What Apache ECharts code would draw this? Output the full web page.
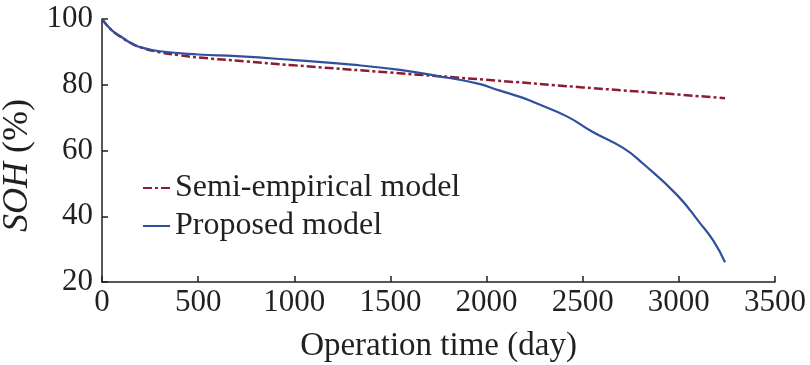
<!DOCTYPE html>
<html><head><meta charset="utf-8">
<script src="https://cdn.jsdelivr.net/npm/echarts@6/dist/echarts.min.js"></script>
<style>html,body{margin:0;padding:0;background:#fff}#c{width:810px;height:365px}</style>
</head><body><div id="c"></div>
<script>
const xTicks = [0, 500, 1000, 1500, 2000, 2500, 3000, 3500];
const yTicks = [20, 40, 60, 80, 100];
const semiDays = [0, 50, 100, 150, 200, 300, 400, 500, 750, 1000, 1500, 2000, 2500, 3000, 3240];
const semiSOH  = [100, 96.6, 94.5, 92.7, 91.4, 89.9, 89.0, 88.3, 87.1, 85.9, 83.7, 81.5, 79.2, 77.0, 75.9];
const propDays = [0, 50, 100, 150, 200, 300, 500, 700, 1000, 1300, 1550, 1740, 1950, 2070, 2170, 2240, 2420, 2550, 2710, 2810, 2990, 3110, 3180, 3240];
const propSOH  = [100, 96.6, 94.6, 92.7, 91.4, 90.2, 89.2, 88.7, 87.5, 86.1, 84.5, 82.7, 80.4, 78.2, 76.4, 74.8, 70.3, 65.7, 60.8, 56.2, 46.5, 37.9, 32.5, 26.0];

const font = '"Liberation Serif", "Times New Roman", serif';
const ink = '#231f20';
const chart = echarts.init(document.getElementById('c'));
chart.setOption({
  animation: false,
  backgroundColor: '#fff',
  textStyle: { fontFamily: font, color: ink },
  grid: { left: 102, right: 35, top: 19, bottom: 83, outerBoundsMode: 'none', containLabel: false },
  legend: {
    orient: 'vertical', left: 137, top: 167, itemGap: 6,
    itemWidth: 27, itemHeight: 14,
    itemStyle: { opacity: 0, borderWidth: 0 },
    textStyle: { fontFamily: font, fontSize: 32, color: ink },
    data: ['Semi-empirical model', 'Proposed model']
  },
  xAxis: {
    type: 'value', min: xTicks[0], max: xTicks[xTicks.length - 1], interval: 500,
    name: 'Operation time (day)', nameLocation: 'middle', nameGap: 48,
    nameTextStyle: { fontFamily: font, fontSize: 33, color: ink },
    axisLine: { lineStyle: { color: ink, width: 1.5 } },
    axisTick: { inside: true, length: 6, lineStyle: { color: ink, width: 1.5 } },
    axisLabel: { fontFamily: font, fontSize: 31, color: ink, margin: 5,
      formatter: v => String(v) },
    splitLine: { show: false }
  },
  yAxis: {
    type: 'value', min: yTicks[0], max: yTicks[yTicks.length - 1], interval: 20,
    name: '{i|SOH} (%)', nameLocation: 'middle', nameGap: 60,
    nameTextStyle: { fontFamily: font, fontSize: 36, color: ink, padding: [0, 30, 0, 0],
      rich: { i: { fontFamily: font, fontSize: 36, fontStyle: 'italic', color: ink } } },
    axisLine: { show: true, lineStyle: { color: ink, width: 1.5 } },
    axisTick: { show: true, inside: true, length: 6, lineStyle: { color: ink, width: 1.5 } },
    axisLabel: { fontFamily: font, fontSize: 31, color: ink, margin: 9 },
    splitLine: { show: false }
  },
  series: [
    {
      name: 'Semi-empirical model', type: 'line', smooth: true, showSymbol: false, symbol: 'none',
      data: semiDays.map((d, i) => [d, semiSOH[i]]),
      lineStyle: { color: '#8c1c32', width: 2.5, type: [9, 3, 3, 3] },
      itemStyle: { color: '#8c1c32' }, z: 2
    },
    {
      name: 'Proposed model', type: 'line', smooth: true, showSymbol: false, symbol: 'none',
      data: propDays.map((d, i) => [d, propSOH[i]]),
      lineStyle: { color: '#2f4f9f', width: 2.2 },
      itemStyle: { color: '#2f4f9f' }, z: 3
    }
  ]
});
</script></body></html>
